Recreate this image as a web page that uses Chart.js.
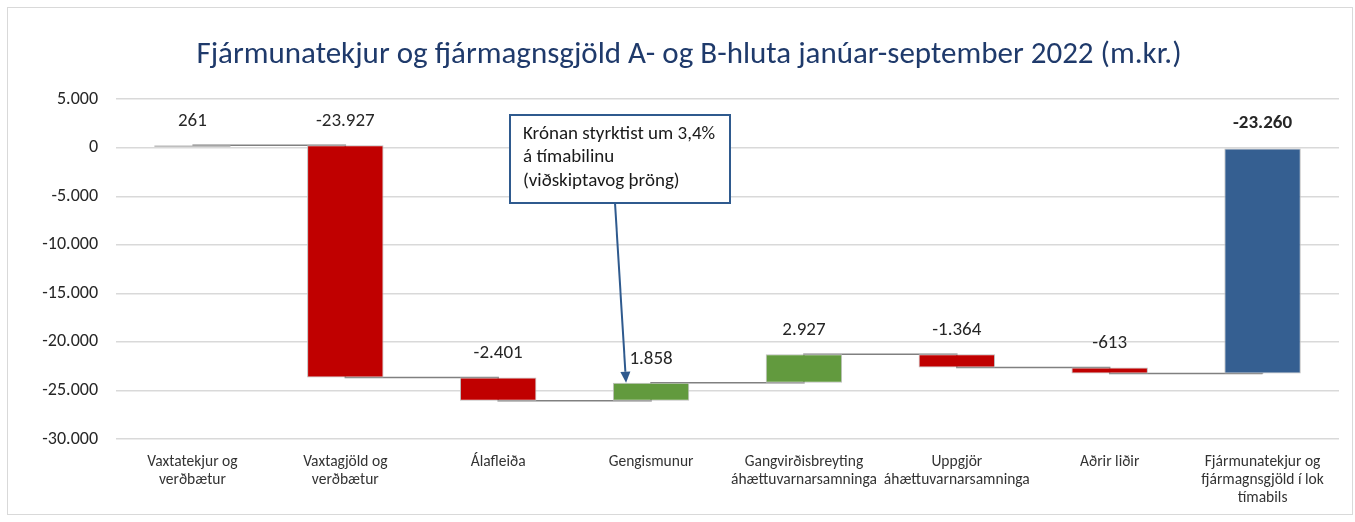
<!DOCTYPE html>
<html>
<head>
<meta charset="utf-8">
<script src="https://cdn.jsdelivr.net/npm/chart.js@4.4.0/dist/chart.umd.min.js"></script>
<style>
  html,body{margin:0;padding:0;background:#fff;}
  #frame{position:absolute;left:7px;top:7px;width:1346px;height:508px;border:1px solid #d9d9d9;box-sizing:border-box;}
  #wrap{position:absolute;left:0;top:0;width:1355px;height:522px;}
</style>
</head>
<body>
<div id="frame"></div>
<div id="wrap"><canvas id="c" width="1355" height="522"></canvas></div>
<script>
const categories = [
  ["Vaxtatekjur og","verðbætur"],
  ["Vaxtagjöld og","verðbætur"],
  "Álafleiða",
  "Gengismunur",
  ["Gangvirðisbreyting","áhættuvarnarsamninga"],
  ["Uppgjör","áhættuvarnarsamninga"],
  "Aðrir liðir",
  ["Fjármunatekjur og","fjármagnsgjöld í lok","tímabils"]
];
const changes = [261, -23927, -2401, 1858, 2927, -1364, -613];
const totalValue = -23260;
const yTicks = {min: -30000, max: 5000, step: 5000};
const titleText = "Fjármunatekjur og fjármagnsgjöld A- og B-hluta janúar-september 2022 (m.kr.)";
const noteLines = ["Krónan styrktist um 3,4%", "á tímabilinu", "(viðskiptavog þröng)"];
const noteTarget = 3;

const RED = "#C00000", GREEN = "#629A3E", BLUE = "#355F91";

function fmt(v){
  const s = Math.abs(Math.round(v)).toString().replace(/\B(?=(\d{3})+(?!\d))/g, ".");
  return (v < 0 ? "-" : "") + s;
}

const ranges = [];
const levels = [];
let run = 0;
changes.forEach(c => { ranges.push([run, run + c]); run += c; levels.push(run); });
ranges.push([0, totalValue]);
levels.push(totalValue);
const colors = changes.map(c => c >= 0 ? GREEN : RED).concat([BLUE]);
const labelTexts = changes.map(fmt).concat([fmt(totalValue)]);

const FONT = "Carlito, Lato, 'Open Sans', sans-serif";

const labelPlugin = {
  id: 'wfLabels',
  afterDatasetsDraw(chart){
    const ctx = chart.ctx;
    const meta = chart.getDatasetMeta(1);
    const ys = chart.scales.y;
    ctx.save();
    ctx.textAlign = 'center';
    ctx.textBaseline = 'middle';
    ctx.fillStyle = '#262626';
    meta.data.forEach((bar, i) => {
      const top = ys.getPixelForValue(Math.max(ranges[i][0], ranges[i][1]));
      const isTotal = i === ranges.length - 1;
      ctx.font = (isTotal ? 'bold ' : '') + '19px ' + FONT;
      ctx.fillText(labelTexts[i], bar.x, top - 24);
    });
    const bx = 510, by = 115, bw = 220, bh = 88;
    ctx.fillStyle = '#fff';
    ctx.fillRect(bx, by, bw, bh);
    ctx.strokeStyle = '#2F5A8E';
    ctx.lineWidth = 2;
    ctx.strokeRect(bx, by, bw, bh);
    ctx.fillStyle = '#1a1a1a';
    ctx.textAlign = 'left';
    ctx.font = '19px ' + FONT;
    noteLines.forEach((t, k) => ctx.fillText(t, bx + 13, by + 19 + k * 23.5));
    const tb = meta.data[noteTarget];
    const tx = tb.x - 25;
    const ty = ys.getPixelForValue(Math.max(ranges[noteTarget][0], ranges[noteTarget][1]));
    const sx = 615, sy = by + bh;
    const ang = Math.atan2(ty - sy, tx - sx);
    const hl = 11, hw = 5;
    const ex = tx - Math.cos(ang) * hl, ey = ty - Math.sin(ang) * hl;
    ctx.beginPath();
    ctx.moveTo(sx, sy);
    ctx.lineTo(ex, ey);
    ctx.stroke();
    ctx.beginPath();
    ctx.fillStyle = '#2F5A8E';
    ctx.moveTo(tx, ty);
    ctx.lineTo(ex + Math.sin(ang) * hw, ey - Math.cos(ang) * hw);
    ctx.lineTo(ex - Math.sin(ang) * hw, ey + Math.cos(ang) * hw);
    ctx.closePath();
    ctx.fill();
    ctx.restore();
  }
};

new Chart(document.getElementById('c'), {
  data: {
    labels: categories,
    datasets: [
      {
        type: 'line',
        data: levels,
        stepped: 'before',
        borderColor: '#808080',
        borderWidth: 1.5,
        pointRadius: 0,
        fill: false,
        order: 2
      },
      {
        type: 'bar',
        data: ranges,
        backgroundColor: colors,
        borderColor: '#BFBFBF',
        borderWidth: 1,
        borderSkipped: false,
        barPercentage: 0.5,
        categoryPercentage: 1,
        order: 1
      }
    ]
  },
  options: {
    responsive: false,
    animation: false,
    events: [],
    layout: {padding: {left: 39, right: 16, top: 0, bottom: 0}},
    plugins: {
      legend: {display: false},
      tooltip: {enabled: false},
      title: {
        display: true,
        text: titleText,
        color: '#1F3A6B',
        font: {family: FONT, size: 31, weight: 'normal'},
        padding: {top: 37, bottom: 25}
      }
    },
    scales: {
      x: {
        afterFit(s){ s.height = 83; },
        grid: {display: false},
        border: {display: false},
        ticks: {color: '#333', font: {family: FONT, size: 15.5, lineHeight: 1.16}, maxRotation: 0, autoSkip: false, padding: 6}
      },
      y: {
        min: yTicks.min, max: yTicks.max,
        afterFit(s){ s.width = 77; },
        grid: {color: '#D9D9D9', lineWidth: 1.5, drawTicks: false},
        border: {display: false},
        ticks: {stepSize: yTicks.step, color: '#262626', font: {family: FONT, size: 18}, padding: 18, callback: v => fmt(v)}
      }
    }
  },
  plugins: [labelPlugin]
});
</script>
</body>
</html>
